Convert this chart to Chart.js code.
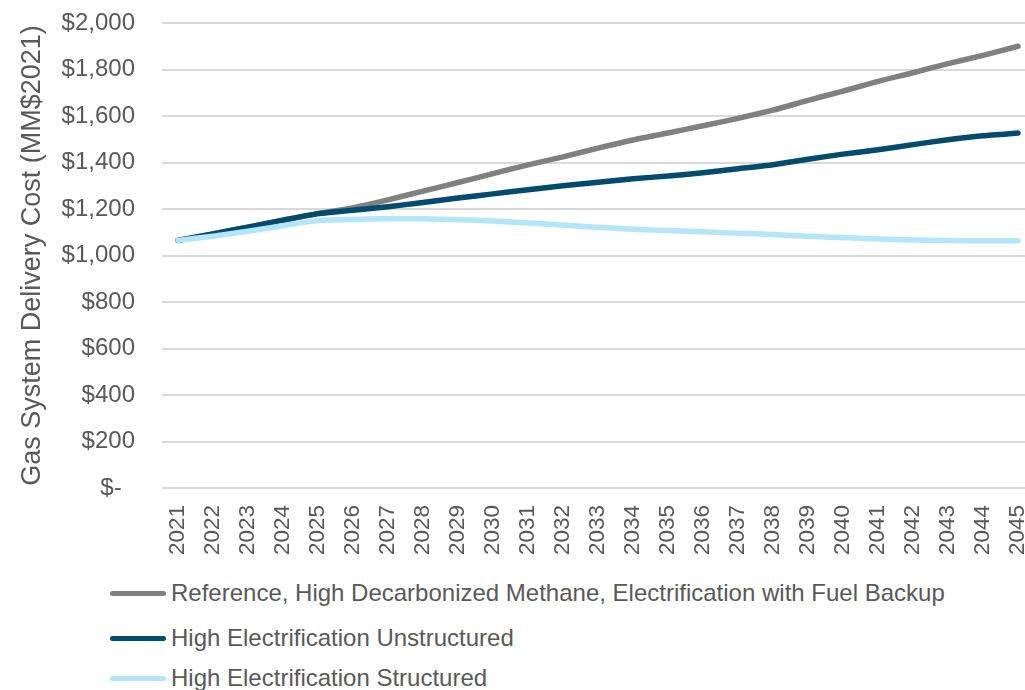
<!DOCTYPE html>
<html>
<head>
<meta charset="utf-8">
<script src="https://cdn.jsdelivr.net/npm/chart.js@4.4.1/dist/chart.umd.min.js"></script>
<style>
  html, body { margin: 0; padding: 0; background: #fff; }
  body { width: 1025px; height: 690px; position: relative; overflow: hidden; font-family: "Liberation Sans", Arial, sans-serif; }
  .chart-box { position: absolute; left: 0; top: 0; width: 1025px; height: 565px; }
  .legend-row { position: absolute; left: 110px; height: 30px; display: flex; align-items: center; color: #595959; font-size: 24px; white-space: nowrap; }
  .legend-row .swatch { display: inline-block; width: 56px; height: 5px; border-radius: 3px; margin-right: 5px; }
</style>
</head>
<body>
<div class="chart-box"><canvas id="costChart"></canvas></div>
<div id="legend"></div>
<script>
// --- DATA --- //
const years = [2021, 2022, 2023, 2024, 2025, 2026, 2027, 2028, 2029, 2030, 2031, 2032, 2033,
  2034, 2035, 2036, 2037, 2038, 2039, 2040, 2041, 2042, 2043, 2044, 2045];

const referenceCost = [1065, 1093, 1122, 1152, 1180, 1205, 1239, 1277, 1314, 1352, 1390, 1424, 1462,
  1497, 1527, 1558, 1590, 1625, 1667, 1707, 1749, 1786, 1825, 1861, 1900];
const unstructuredCost = [1065, 1093, 1122, 1152, 1180, 1195, 1210, 1228, 1247, 1265, 1283, 1300, 1315,
  1330, 1342, 1356, 1373, 1390, 1414, 1436, 1455, 1477, 1498, 1515, 1527];
const structuredCost = [1065, 1083, 1104, 1128, 1150, 1155, 1158, 1158, 1154, 1148, 1140, 1131, 1121,
  1113, 1107, 1102, 1096, 1090, 1083, 1077, 1071, 1067, 1065, 1063, 1063];

const seriesNames = [
  'Reference, High Decarbonized Methane, Electrification with Fuel Backup',
  'High Electrification Unstructured',
  'High Electrification Structured'
];
const seriesColors = ['#808080', '#004b6e', '#b4e6fb'];

const yMin = 0;
const yMax = 2000;
const yStep = 200;
const yTitle = 'Gas System Delivery Cost (MM$2021)';

// --- CHART --- //
Chart.defaults.font.family = "'Liberation Sans', Arial, sans-serif";
Chart.defaults.color = '#595959';

const toPoints = values => values.map((v, i) => ({ x: years[i], y: v }));

function makeDataset(idx, values, order) {
  return {
    label: seriesNames[idx],
    data: toPoints(values),
    borderColor: seriesColors[idx],
    backgroundColor: seriesColors[idx],
    borderWidth: 5.5,
    pointRadius: 0,
    borderCapStyle: 'round',
    borderJoinStyle: 'round',
    tension: 0.2,
    order: order
  };
}

const costChart = new Chart(document.getElementById('costChart'), {
  type: 'line',
  data: {
    datasets: [
      makeDataset(0, referenceCost, 3),
      makeDataset(1, unstructuredCost, 2),
      makeDataset(2, structuredCost, 1)
    ]
  },
  options: {
    responsive: true,
    maintainAspectRatio: false,
    animation: false,
    layout: { padding: { top: 23, left: 0, right: 0, bottom: 0 } },
    scales: {
      x: {
        type: 'linear',
        min: years[0] - 16 / 35,
        max: years[years.length - 1] + 7 / 35,
        grid: { display: false, drawTicks: false },
        border: { display: false },
        afterBuildTicks: scale => { scale.ticks = years.map(v => ({ value: v })); },
        afterFit: scale => {
          scale.height = 77;
          scale.paddingLeft = 0;
          scale.paddingRight = 0;
        },
        ticks: {
          autoSkip: false,
          maxRotation: 90,
          minRotation: 90,
          padding: 17,
          color: '#595959',
          font: { size: 22.5 },
          callback: v => String(v)
        }
      },
      y: {
        min: yMin,
        max: yMax,
        grid: { color: '#d9d9d9', lineWidth: 2, drawTicks: false },
        border: { display: false },
        afterFit: scale => {
          scale.width = 162;
          scale.paddingTop = 0;
          scale.paddingBottom = 0;
        },
        ticks: {
          stepSize: yStep,
          padding: 27,
          color: '#595959',
          font: { size: 24 },
          callback: v => v === 0 ? '$-  ' : '$' + v.toLocaleString('en-US')
        },
        title: {
          display: true,
          text: yTitle,
          color: '#595959',
          font: { size: 27 },
          padding: { top: 16, bottom: 0 }
        }
      }
    },
    plugins: {
      legend: { display: false },
      tooltip: { enabled: false }
    }
  }
});

// --- LEGEND --- //
const legendTops = [578, 623, 663];
const legendBox = document.getElementById('legend');
costChart.data.datasets.forEach((ds, i) => {
  const row = document.createElement('div');
  row.className = 'legend-row';
  row.style.top = legendTops[i] + 'px';
  const swatch = document.createElement('span');
  swatch.className = 'swatch';
  swatch.style.background = ds.borderColor;
  row.appendChild(swatch);
  row.appendChild(document.createTextNode(ds.label));
  legendBox.appendChild(row);
});
</script>
</body>
</html>
